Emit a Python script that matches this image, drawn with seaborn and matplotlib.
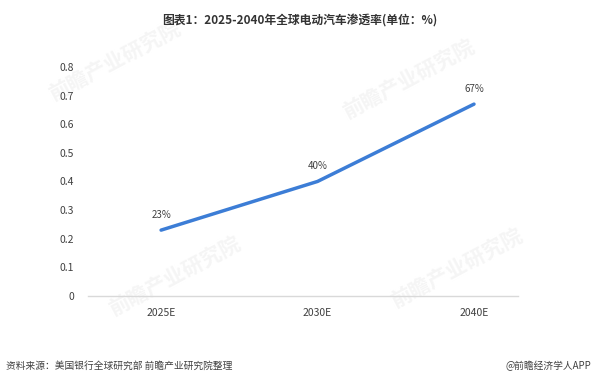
import pandas as pd
import matplotlib
matplotlib.use("Agg")
import matplotlib.pyplot as plt
import seaborn as sns

# -----------------------------------
# Data
# -----------------------------------
years = ["2025E", "2030E", "2040E"]
rates = [0.23, 0.40, 0.67]
labels = ["23%", "40%", "67%"]

df = pd.DataFrame({"year": years, "rate": rates})

sns.set_style("white")
plt.rcParams["font.family"] = ["Noto Sans CJK SC", "DejaVu Sans"]

fig = plt.figure(figsize=(6, 3.78), dpi=100)
ax = fig.add_axes([0.147, 0.217, 0.716, 0.606])
ax.set_zorder(2)

# faint watermarks (behind the axes)
for wx, wy in [(0.19, 0.84), (0.29, 0.27), (0.68, 0.79), (0.76, 0.29)]:
    fig.text(wx, wy, "前瞻产业研究院", fontsize=15, color="#f5f5f5",
             rotation=28, ha="center", va="center", fontweight="bold",
             zorder=-1)

sns.lineplot(data=df, x="year", y="rate", color="#3c7dd6", linewidth=2.5,
             sort=False, ax=ax)

for i, (v, t) in enumerate(zip(rates, labels)):
    ax.text(i, v + 0.035, t, ha="center", va="bottom", fontsize=7,
            color="#404040")

ax.set_xlim(-0.466, 2.28)
ax.set_ylim(0, 0.8)
ax.set_yticks([0, 0.1, 0.2, 0.3, 0.4, 0.5, 0.6, 0.7, 0.8])
ax.set_yticklabels(["0", "0.1", "0.2", "0.3", "0.4", "0.5", "0.6", "0.7", "0.8"])
ax.set_xlabel("")
ax.set_ylabel("")
ax.tick_params(axis="both", length=0, labelsize=7.5, colors="#404040")
ax.tick_params(axis="x", pad=9)
ax.tick_params(axis="y", pad=10)
for s in ["top", "right", "left"]:
    ax.spines[s].set_visible(False)
ax.spines["bottom"].set_color("#d9d9d9")
ax.spines["bottom"].set_linewidth(1)
ax.patch.set_alpha(0)

fig.text(0.5, 0.945, "图表1：2025-2040年全球电动汽车渗透率(单位：%)",
         ha="center", va="center", fontsize=8.5, fontweight="bold",
         color="#333333")
fig.text(0.01, 0.033, "资料来源：美国银行全球研究部 前瞻产业研究院整理",
         ha="left", va="center", fontsize=7, color="#404040")
fig.text(0.985, 0.033, "@前瞻经济学人APP",
         ha="right", va="center", fontsize=7, color="#404040")

fig.savefig("out.png", dpi=100)
plt.close(fig)
